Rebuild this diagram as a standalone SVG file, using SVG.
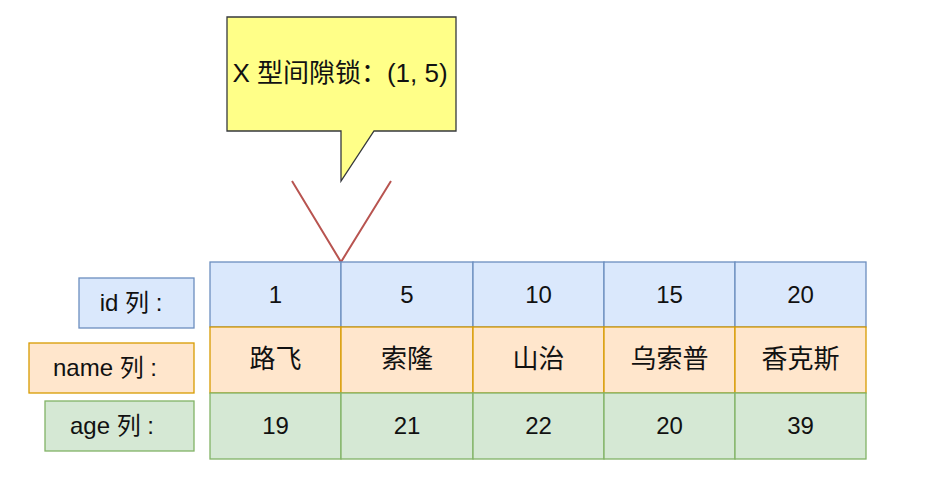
<svg xmlns="http://www.w3.org/2000/svg" width="946" height="483" viewBox="0 0 946 483">
<style>
text{font-family:"Liberation Sans","Noto Sans CJK SC",sans-serif;font-size:24px;fill:#111;text-anchor:middle;dominant-baseline:central}
.b{fill:#dae8fc;stroke:#6c8ebf;stroke-width:1.3}
.o{fill:#ffe6cc;stroke:#d79b00;stroke-width:1.3}
.g{fill:#d5e8d4;stroke:#82b366;stroke-width:1.3}
.cjk{font-size:26px}
</style>
<rect width="946" height="483" fill="#fff"/>
<g id="callout">
<path d="M227 17 H456 V131 H374 L341 181 V131 H227 Z" fill="#ffff88" stroke="#36393d" stroke-width="1.3"/>
<text class="cjk" x="340" y="73">X 型间隙锁：(1, 5)</text>
</g>
<g id="connectors">
<path d="M292 181 L341 262 L391 181" fill="none" stroke="#b85450" stroke-width="2"/>
</g>
<g id="label-id"><rect class="b" x="79" y="278" width="115" height="50"/><text x="131" y="302">id 列 :</text></g>
<g id="label-name"><rect class="o" x="29" y="343" width="165" height="50"/><text x="105" y="367">name 列 :</text></g>
<g id="label-age"><rect class="g" x="45" y="401" width="149" height="50"/><text x="112" y="425">age 列 :</text></g>
<g id="row-id">
<rect class="b" x="210" y="262" width="131" height="65"/><text x="275.5" y="294.5">1</text>
<rect class="b" x="341" y="262" width="132" height="65"/><text x="407" y="294.5">5</text>
<rect class="b" x="473" y="262" width="131" height="65"/><text x="538.5" y="294.5">10</text>
<rect class="b" x="604" y="262" width="131" height="65"/><text x="669.5" y="294.5">15</text>
<rect class="b" x="735" y="262" width="131" height="65"/><text x="800.5" y="294.5">20</text>
</g>
<g id="row-name">
<rect class="o" x="210" y="327" width="131" height="66"/><text class="cjk" x="275.5" y="359">路飞</text>
<rect class="o" x="341" y="327" width="132" height="66"/><text class="cjk" x="407" y="359">索隆</text>
<rect class="o" x="473" y="327" width="131" height="66"/><text class="cjk" x="538.5" y="359">山治</text>
<rect class="o" x="604" y="327" width="131" height="66"/><text class="cjk" x="669.5" y="359">乌索普</text>
<rect class="o" x="735" y="327" width="131" height="66"/><text class="cjk" x="800.5" y="359">香克斯</text>
</g>
<g id="row-age">
<rect class="g" x="210" y="393" width="131" height="66"/><text x="275.5" y="425">19</text>
<rect class="g" x="341" y="393" width="132" height="66"/><text x="407" y="425">21</text>
<rect class="g" x="473" y="393" width="131" height="66"/><text x="538.5" y="425">22</text>
<rect class="g" x="604" y="393" width="131" height="66"/><text x="669.5" y="425">20</text>
<rect class="g" x="735" y="393" width="131" height="66"/><text x="800.5" y="425">39</text>
</g>
</svg>
